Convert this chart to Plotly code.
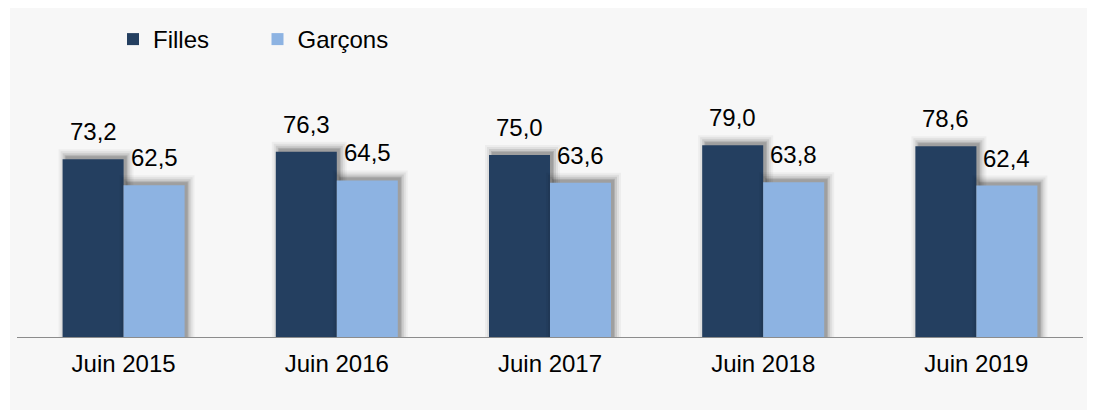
import plotly.graph_objects as go

categories = ["Juin 2015", "Juin 2016", "Juin 2017", "Juin 2018", "Juin 2019"]
filles = [73.2, 76.3, 75.0, 79.0, 78.6]
garcons = [62.5, 64.5, 63.6, 63.8, 62.4]
series_names = ["Filles", "Garçons"]
series_values = [filles, garcons]
colors = ["#243F60", "#8DB3E2"]

# The page body has an 8px margin, so the figure starts at (8, 8) on screen.
W, H = 1087, 402
ml, mr, mt, mb = 9, 12, 0, 73
plot_w = W - ml - mr
plot_h = H - mt - mb
cat_px = plot_w / len(categories)
bar_px = 61
bw = bar_px / cat_px
px_per_unit = 2.427
ymax = plot_h / px_per_unit
FONT = "Liberation Sans, Arial, sans-serif"
FS = 24

fig = go.Figure()
annotations = []
for k, (name, vals, col) in enumerate(zip(series_names, series_values, colors)):
    off = -bw if k == 0 else 0.0
    dx, dy = 3, 3
    for spread, alpha in [(7, 0.04), (5, 0.06), (3, 0.09), (1, 0.12), (0, 0.10)]:
        fig.add_bar(
            x=categories,
            y=[v + (dy + spread) / px_per_unit for v in vals],
            offset=off + (dx - spread) / cat_px,
            width=bw + 2 * spread / cat_px,
            marker_color=f"rgba(0,0,0,{alpha})",
            marker_line_width=0,
            showlegend=False,
            hoverinfo="skip",
        )
    fig.add_bar(
        x=categories, y=vals, name=name, offset=off, width=bw,
        marker_color=col, marker_line_width=0,
    )
    for i, v in enumerate(vals):
        annotations.append(dict(
            x=i + off + bw / 2, y=v, xref="x", yref="y",
            text=f"{v:.1f}".replace(".", ","), showarrow=False,
            yanchor="bottom", xanchor="center", yshift=12,
            font=dict(family=FONT, size=FS, color="#000000"),
        ))

fig.add_shape(
    type="rect", xref="paper", yref="paper", layer="below",
    x0=(2 - ml) / plot_w, x1=(1086 - ml) / plot_w,
    y0=(mt + plot_h - H - 4) / plot_h, y1=(mt + plot_h - 0) / plot_h,
    fillcolor="#F7F7F7", line_width=0,
)

fig.update_layout(
    width=W, height=H,
    margin=dict(l=ml, r=mr, t=mt, b=mb, pad=0, autoexpand=False),
    barmode="overlay",
    paper_bgcolor="#FFFFFF",
    plot_bgcolor="rgba(0,0,0,0)",
    separators=", ",
    font=dict(family=FONT, size=FS, color="#000000"),
    annotations=annotations,
    showlegend=True,
    legend=dict(
        orientation="h", x=(105 - ml) / plot_w, xanchor="left",
        yref="paper", y=(mt + plot_h - 31.5) / plot_h, yanchor="middle",
        font=dict(family=FONT, size=FS, color="#000000"),
        bgcolor="rgba(0,0,0,0)", entrywidth=99.5, entrywidthmode="pixels",
        traceorder="normal",
    ),
    xaxis=dict(
        type="category", range=[-0.5, len(categories) - 0.5],
        showline=True, linecolor="#8C8C8C", linewidth=1,
        ticks="", showgrid=False, zeroline=False, automargin=False,
        ticklabelstandoff=5,
        tickfont=dict(family=FONT, size=FS, color="#000000"),
    ),
    yaxis=dict(visible=False, range=[0, ymax], showgrid=False, zeroline=False,
               automargin=False),
)

fig.write_html("out.html")
